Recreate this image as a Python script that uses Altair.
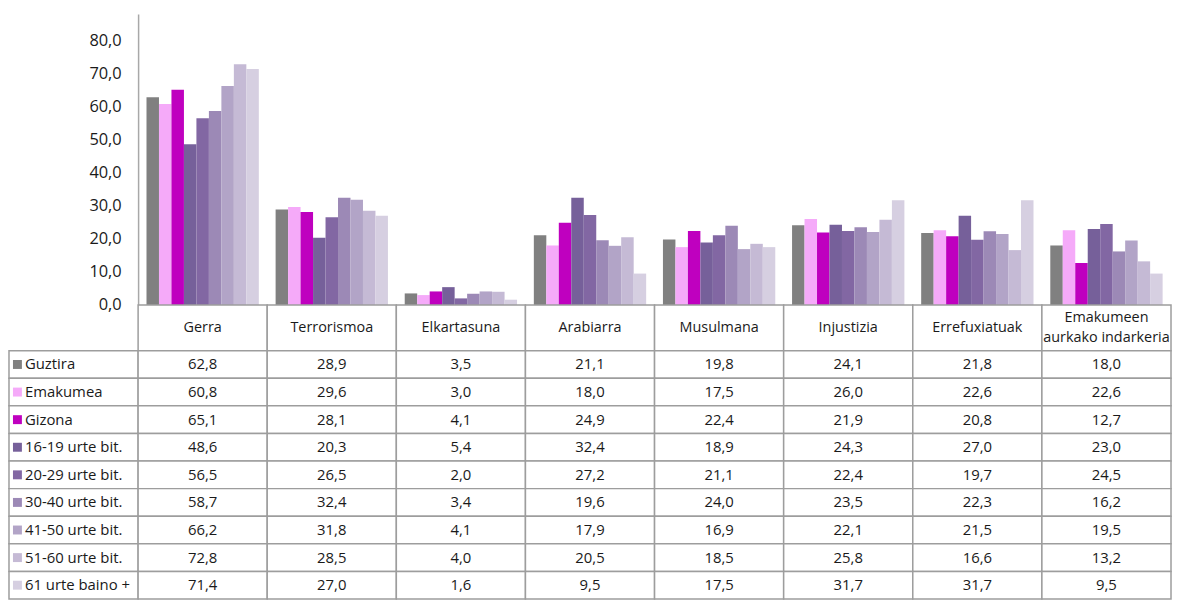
import altair as alt
import pandas as pd

categories = ["Gerra", "Terrorismoa", "Elkartasuna", "Arabiarra", "Musulmana",
              "Injustizia", "Errefuxiatuak", "Emakumeen aurkako indarkeria"]
header_labels = ["Gerra", "Terrorismoa", "Elkartasuna", "Arabiarra", "Musulmana",
                 "Injustizia", "Errefuxiatuak", "Emakumeen\naurkako indarkeria"]
series = ["Guztira", "Emakumea", "Gizona", "16-19 urte bit.", "20-29 urte bit.",
          "30-40 urte bit.", "41-50 urte bit.", "51-60 urte bit.", "61 urte baino +"]
colors = ["#808080", "#F5AAF9", "#BF00BF", "#76609A", "#8267A3",
          "#9C89B6", "#B2A4C7", "#C5BAD5", "#D6CFE1"]

guztira = [62.8, 28.9, 3.5, 21.1, 19.8, 24.1, 21.8, 18.0]
emakumea = [60.8, 29.6, 3.0, 18.0, 17.5, 26.0, 22.6, 22.6]
gizona = [65.1, 28.1, 4.1, 24.9, 22.4, 21.9, 20.8, 12.7]
a16_19 = [48.6, 20.3, 5.4, 32.4, 18.9, 24.3, 27.0, 23.0]
a20_29 = [56.5, 26.5, 2.0, 27.2, 21.1, 22.4, 19.7, 24.5]
a30_40 = [58.7, 32.4, 3.4, 19.6, 24.0, 23.5, 22.3, 16.2]
a41_50 = [66.2, 31.8, 4.1, 17.9, 16.9, 22.1, 21.5, 19.5]
a51_60 = [72.8, 28.5, 4.0, 20.5, 18.5, 25.8, 16.6, 13.2]
a61 = [71.4, 27.0, 1.6, 9.5, 17.5, 31.7, 31.7, 9.5]
y_ticks = [0, 10, 20, 30, 40, 50, 60, 70, 80]

values = [guztira, emakumea, gizona, a16_19, a20_29, a30_40, a41_50, a51_60, a61]

LBL = "_lbl"
col_domain = [LBL] + categories
W = 1170
FONT = "Open Sans"
TXT = "#1a1a1a"
GRID = "#9d9d9d"
FS = 15
FSH = 14.5

rows = []
for s, vals in zip(series, values):
    for c, v in zip(categories, vals):
        rows.append({"series": s, "cat": c, "value": v,
                     "label": f"{v:.1f}".replace(".", ",")})
df = pd.DataFrame(rows)

color_scale = alt.Scale(domain=series, range=colors)

# ---------- bar chart ----------
bars = alt.Chart(df).mark_bar().encode(
    x=alt.X("cat:N", scale=alt.Scale(domain=col_domain, paddingInner=0.13, paddingOuter=0.065),
            axis=None),
    xOffset=alt.XOffset("series:N", scale=alt.Scale(domain=series, paddingInner=0, paddingOuter=0)),
    y=alt.Y("value:Q", scale=alt.Scale(domain=[0, 88], nice=False),
            axis=alt.Axis(values=y_ticks, title=None, grid=False, ticks=False, labelPadding=17,
                          offset=-W / 9, domainColor="#a8a8a8", domainWidth=1.5,
                          labelFontSize=16.5, labelColor=TXT, labelFont=FONT,
                          labelExpr="replace(format(datum.value, '.1f'), '.', ',')")),
    color=alt.Color("series:N", scale=color_scale, legend=None),
).properties(width=W, height=293)

# ---------- table header ----------
hdf = pd.DataFrame({"col": categories, "label": header_labels})
hdf["multi"] = hdf["label"].str.contains("\n")
xs_table = alt.Scale(domain=col_domain, paddingInner=0, paddingOuter=0)
h_rect = alt.Chart(hdf).mark_rect(fill="white", stroke=GRID, strokeWidth=1.5).encode(
    x=alt.X("col:N", scale=xs_table, axis=None))
h_text1 = alt.Chart(hdf).transform_filter("!datum.multi").mark_text(
    fontSize=FSH, font=FONT, color=TXT).encode(
    x=alt.X("col:N", scale=xs_table, axis=None), text="label:N")
h_text2 = alt.Chart(hdf).transform_filter("datum.multi").mark_text(
    lineBreak="\n", fontSize=FSH, font=FONT, color=TXT, lineHeight=20, dy=-10).encode(
    x=alt.X("col:N", scale=xs_table, axis=None), text="label:N")
header = alt.layer(h_rect, h_text1, h_text2).properties(width=W, height=46)

# ---------- table body ----------
cells = pd.DataFrame([{"col": c, "series": s} for s in series for c in col_domain])
ys_table = alt.Scale(domain=series, paddingInner=0, paddingOuter=0)
b_rect = alt.Chart(cells).mark_rect(fill="white", stroke=GRID, strokeWidth=1.5).encode(
    x=alt.X("col:N", scale=xs_table, axis=None),
    y=alt.Y("series:N", scale=ys_table, axis=None))
b_text = alt.Chart(df).mark_text(fontSize=FS, font=FONT, color=TXT).encode(
    x=alt.X("cat:N", scale=xs_table, axis=None),
    y=alt.Y("series:N", scale=ys_table, axis=None),
    text="label:N")
ldf = pd.DataFrame({"col": [LBL] * len(series), "series": series})
b_sq = alt.Chart(ldf).mark_square(size=81, opacity=1, xOffset=8.5).encode(
    x=alt.X("col:N", scale=xs_table, axis=None, bandPosition=0),
    y=alt.Y("series:N", scale=ys_table, axis=None),
    color=alt.Color("series:N", scale=color_scale, legend=None))
b_lbl = alt.Chart(ldf).mark_text(fontSize=FS, font=FONT, color=TXT, align="left", dx=16).encode(
    x=alt.X("col:N", scale=xs_table, axis=None, bandPosition=0),
    y=alt.Y("series:N", scale=ys_table, axis=None),
    text="series:N")
body = alt.layer(b_rect, b_text, b_sq, b_lbl).properties(width=W, height=250)

chart = alt.vconcat(bars, header, body, spacing=0, bounds="flush").properties(
    padding={"left": 0, "top": 4, "right": 0, "bottom": 0}
).configure_view(strokeWidth=0).configure_concat(spacing=0).resolve_scale(color="shared")

chart.save("out.html", embed_options={"renderer": "svg", "actions": False})
